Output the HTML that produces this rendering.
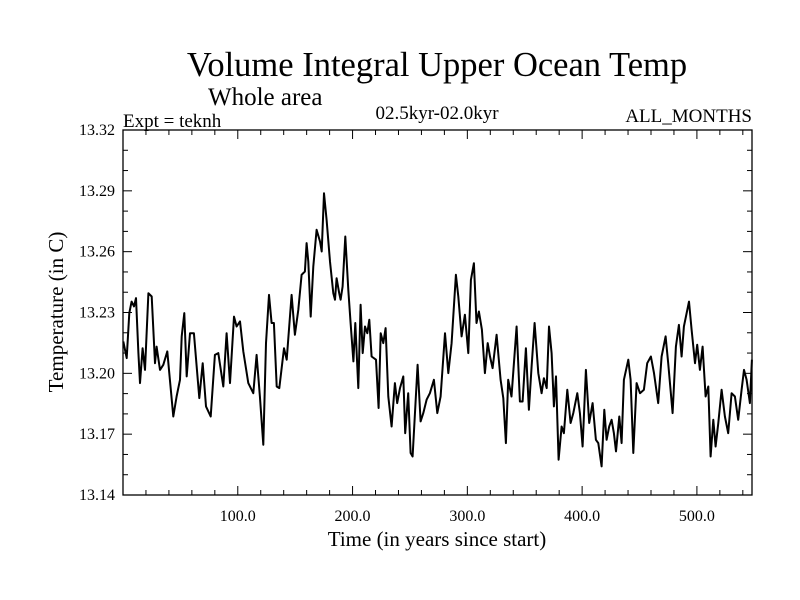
<!DOCTYPE html>
<html><head><meta charset="utf-8"><style>
body{margin:0;background:#fff}
svg{display:block}
text{font-family:"Liberation Serif",serif;fill:#000}
</style></head><body>
<svg id="chart" width="800" height="600">
<text x="437" y="76" font-size="34.5" text-anchor="middle">Volume Integral Upper Ocean Temp</text>
<text x="208" y="105" font-size="25">Whole area</text>
<text x="123" y="127" font-size="19">Expt = teknh</text>
<text x="437" y="119" font-size="19" text-anchor="middle">02.5kyr-02.0kyr</text>
<text x="752" y="122" font-size="19" text-anchor="end">ALL_MONTHS</text>
<text x="437" y="546" font-size="21" text-anchor="middle">Time (in years since start)</text>
<text transform="translate(63,312) rotate(-90)" font-size="21" text-anchor="middle">Temperature (in C)</text>
<g id="axes"></g>
<path id="series" fill="none" stroke="#000" stroke-width="2" stroke-linejoin="round"></path>
<rect x="123" y="130" width="629" height="365" fill="none" stroke="#000" stroke-width="1.3"></rect>
</svg>
<script>
const years=[0.3,3.2,5.5,7.5,9.6,11.3,13.4,14.8,17.1,19.2,22.1,25.0,27.9,29.3,32.2,35.1,38.6,40.9,43.8,46.7,49.7,51.1,53.4,55.5,58.4,61.8,66.5,69.4,72.3,76.4,80.1,83.0,87.4,90.3,93.2,96.7,99.0,101.9,104.8,109.2,113.5,116.4,119.3,122.2,124.6,127.2,129.5,131.5,133.9,136.2,140.3,142.6,146.9,149.8,152.7,155.6,158.5,160.0,161.4,163.5,165.8,168.7,171.6,173.1,175.1,177.4,180.3,183.2,184.7,186.1,188.4,
189.6,191.3,193.7,196.3,198.3,200.7,202.4,205.0,207.0,208.8,210.8,212.8,214.6,216.6,220.4,222.7,224.5,226.8,228.8,231.1,234.0,236.9,238.9,241.3,244.2,245.9,248.5,250.6,252.3,256.7,259.3,261.6,264.5,267.4,270.9,273.8,276.7,280.5,283.4,286.3,290.0,292.1,295.0,297.9,300.8,303.1,305.7,308.0,310.1,312.7,315.3,317.7,319.7,322.0,325.5,329.0,331.3,333.6,335.6,338.5,342.9,345.8,348.1,351.0,353.6,356.0,358.6,361.8,364.7,366.7,369.1,371.1,
373.4,375.4,377.2,379.5,382.1,384.1,387.1,390.0,392.3,395.8,398.1,400.4,403.3,406.2,409.1,412.0,414.1,417.0,419.3,421.3,423.6,425.7,427.7,429.5,432.4,434.4,436.4,440.2,442.2,444.6,447.5,450.4,453.8,456.7,459.9,462.6,466.3,469.2,472.7,475.0,478.8,481.7,484.3,486.7,488.7,493.1,495.4,498.3,500.3,502.6,505.0,507.6,509.9,511.9,514.3,516.3,518.6,521.5,524.4,527.3,530.2,533.1,536.0,538.9,541.0,543.3,546.2,547.9];
const temps=[13.2157,13.2075,13.2297,13.2354,13.2330,13.2371,13.2100,13.1952,13.2124,13.2017,13.2395,13.2379,13.2050,13.2132,13.2017,13.2042,13.2108,13.1968,13.1787,13.1886,13.1968,13.2182,13.2297,13.1985,13.2198,13.2198,13.1878,13.2050,13.1837,13.1787,13.2091,13.2100,13.1935,13.2198,13.1952,13.2280,13.2231,13.2256,13.2108,13.1952,13.1902,13.2091,13.1886,13.1648,13.2149,13.2387,13.2248,13.2248,13.1935,13.1927,13.2124,13.2067,13.2387,13.2190,13.2313,13.2486,13.2502,13.2642,13.2551,13.2280,13.2527,13.2708,13.2650,13.2601,13.2888,13.2757,13.2551,13.2395,13.2363,13.2469,13.2395,
13.2363,13.2428,13.2675,13.2412,13.2248,13.2059,13.2248,13.1927,13.2338,13.2100,13.2231,13.2198,13.2264,13.2083,13.2067,13.1829,13.2198,13.2149,13.2223,13.1886,13.1738,13.1952,13.1853,13.1927,13.1985,13.1705,13.1902,13.1607,13.1590,13.2042,13.1763,13.1804,13.1870,13.1902,13.1968,13.1804,13.1886,13.2198,13.2001,13.2149,13.2486,13.2379,13.2182,13.2289,13.2100,13.2461,13.2543,13.2248,13.2305,13.2215,13.2001,13.2149,13.2083,13.2026,13.2190,13.1968,13.1878,13.1656,13.1968,13.1886,13.2231,13.1861,13.1861,13.2124,13.1820,13.2034,13.2248,13.2001,13.1902,13.1976,13.1927,13.2231,
13.2100,13.1837,13.1985,13.1574,13.1738,13.1705,13.1919,13.1755,13.1804,13.1902,13.1804,13.1639,13.2017,13.1755,13.1853,13.1672,13.1656,13.1541,13.1820,13.1672,13.1738,13.1771,13.1705,13.1615,13.1787,13.1656,13.1968,13.2067,13.1968,13.1607,13.1952,13.1902,13.1919,13.2050,13.2083,13.2001,13.1853,13.2083,13.2182,13.2050,13.1804,13.2132,13.2239,13.2083,13.2231,13.2354,13.2215,13.2050,13.2141,13.2017,13.2132,13.1886,13.1935,13.1590,13.1771,13.1639,13.1755,13.1919,13.1787,13.1705,13.1902,13.1886,13.1771,13.1919,13.2017,13.1968,13.1853,13.2067];
const yTickLabels=["13.14","13.17","13.20","13.23","13.26","13.29","13.32"];
const xTickLabels=["100.0","200.0","300.0","400.0","500.0"];
const X0=123,X1=752,Y0=495,Y1=130,XMIN=0,XMAX=548,YMIN=13.14,YMAX=13.32;
const sx=v=>X0+(v-XMIN)/(XMAX-XMIN)*(X1-X0);
const sy=v=>Y0-(v-YMIN)/(YMAX-YMIN)*(Y0-Y1);
const NS="http://www.w3.org/2000/svg";
const g=document.getElementById('axes');
function ln(x1,y1,x2,y2,name){const l=document.createElementNS(NS,'line');l.setAttribute('x1',x1);l.setAttribute('y1',y1);l.setAttribute('x2',x2);l.setAttribute('y2',y2);l.setAttribute('stroke','#000');l.setAttribute('stroke-width','1');


g.appendChild(l);}
function tx(x,y,s,anchor,name){const t=document.createElementNS(NS,'text');t.setAttribute('x',x);t.setAttribute('y',y);t.setAttribute('font-size','16');t.setAttribute('text-anchor',anchor);t.textContent=s;


g.appendChild(t);}
for(let v=13.14;v<=13.3201;v+=0.01){const y=sy(v);const major=Math.abs((v-13.14)/0.03-Math.round((v-13.14)/0.03))<0.01;const L=major?9:5;ln(X0,y,X0+L,y,'y-tick');ln(X1,y,X1-L,y,'y-tick-right');}
yTickLabels.forEach(s=>tx(115,sy(parseFloat(s))+5,s,'end','y-tick-label'));
for(let v=20;v<XMAX;v+=20){const x=sx(v);const L=(v%100===0)?9:5;ln(x,Y0,x,Y0-L,'x-tick');ln(x,Y1,x,Y1+L,'x-tick-top');}
xTickLabels.forEach(s=>tx(sx(parseFloat(s)),521,s,'middle','x-tick-label'));
let d='';years.forEach((yr,i)=>{d+=(i?'L':'M')+sx(yr).toFixed(1)+','+sy(temps[i]).toFixed(1);});
document.getElementById('series').setAttribute('d',d);
</script>
</body></html>
